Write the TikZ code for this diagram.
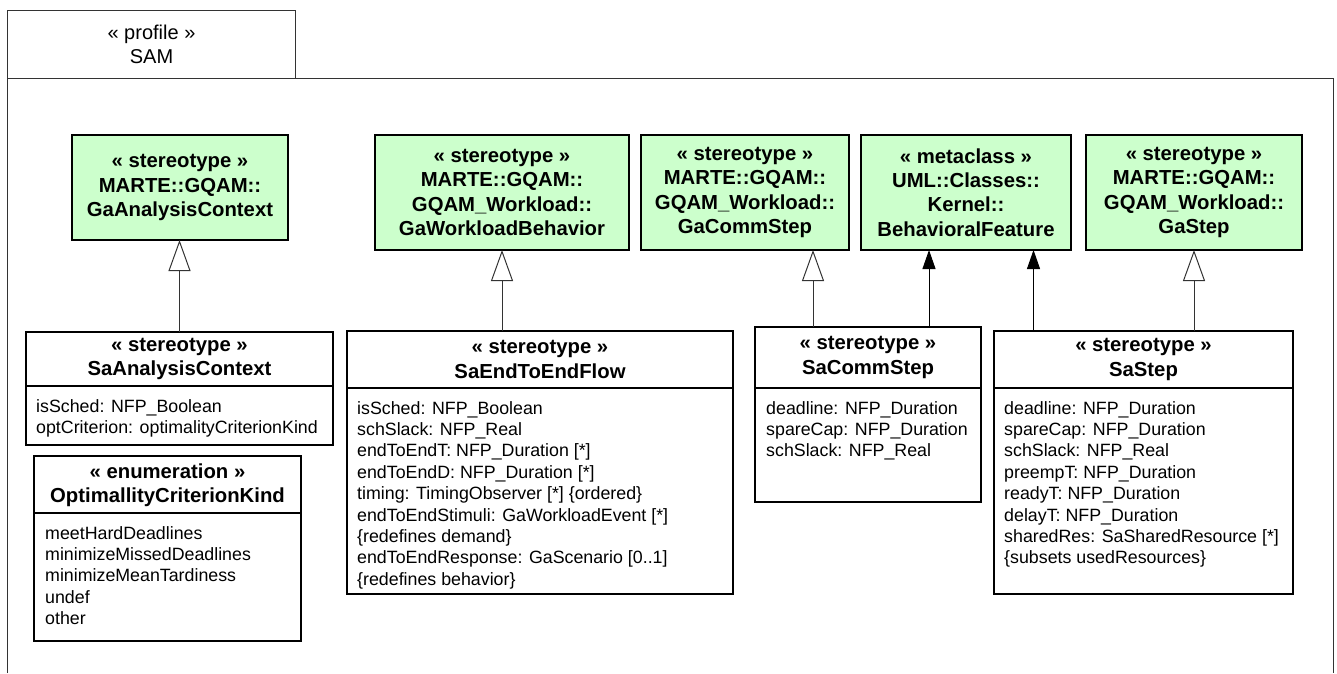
\documentclass[tikz,border=0pt]{standalone}
\usepackage{fontspec}
\setmainfont{Liberation Sans}
\usepackage{tikz}
\usetikzlibrary{arrows.meta, positioning}
\definecolor{stereogreen}{HTML}{CCFFCC}
\definecolor{linegray}{HTML}{333333}
\newcommand{\attrfont}{\fontsize{17.8pt}{21.4pt}\selectfont}
\newcommand{\headfont}{\fontsize{20.3pt}{24.3pt}\selectfont\bfseries}
\newcommand{\tabfont}{\fontsize{20pt}{24pt}\selectfont}

\begin{document}
\begin{tikzpicture}[x=1pt, y=-1pt,
    stereo/.style={rectangle, draw=black, fill=stereogreen, line width=1.4pt, anchor=north west, outer sep=0pt, inner sep=0pt, align=center, font=\headfont},
    umlbox/.style={rectangle, draw=black, fill=white, line width=1.4pt, anchor=north west, outer sep=0pt, inner sep=0pt},
    title/.style={align=center, font=\headfont, inner sep=0pt},
    attrs/.style={align=left, font=\attrfont, anchor=north west, inner sep=0pt},
    split/.style={line width=1.1pt, draw=black},
    frm/.style={line width=1pt, draw=linegray},
    gen/.style={-{Triangle[open, length=31pt, width=22pt]}, line width=1pt, draw=linegray},
    ext/.style={-{Triangle[length=19pt, width=13pt]}, line width=1pt, draw=black}
]
    \useasboundingbox (0,0) rectangle (1337,673);

    % --- Package frame ---
    \node[frm, rectangle, minimum width=288pt, minimum height=68pt, anchor=north west, inner sep=0pt, align=center, font=\tabfont] (tab) at (7,10) {« profile »\\SAM};
    \draw[frm] (7,673) -- (7,78) -- (1333,78) -- (1333,673);

    % --- Imported stereotypes / metaclass ---
    \node[stereo, minimum width=216pt, minimum height=105pt] (gactx) at (72,135) {« stereotype »\\MARTE::GQAM::\\GaAnalysisContext};
    \node[stereo, minimum width=254pt, minimum height=115pt] (gawb) at (375,135) {« stereotype »\\MARTE::GQAM::\\GQAM\_Workload::\\GaWorkloadBehavior};
    \node[stereo, minimum width=208pt, minimum height=115pt] (gacomm) at (641,135) {« stereotype »\\MARTE::GQAM::\\GQAM\_Workload::\\GaCommStep};
    \node[stereo, minimum width=210pt, minimum height=115pt] (behfeat) at (861,135) {« metaclass »\\UML::Classes::\\Kernel::\\BehavioralFeature};
    \node[stereo, minimum width=216pt, minimum height=115pt] (gastep) at (1086,135) {« stereotype »\\MARTE::GQAM::\\GQAM\_Workload::\\GaStep};

    % --- SaAnalysisContext ---
    \node[umlbox, minimum width=307pt, minimum height=113pt] (sactx) at (26,332) {};
    \node[title] (sactx-t) at (179.5,359) {« stereotype »\\SaAnalysisContext};
    \draw[split] ([yshift=-54pt]sactx.north west) -- ([yshift=-54pt]sactx.north east);
    \node[attrs] (sactx-a) at (36,399) {isSched: NFP\_Boolean\\optCriterion: optimalityCriterionKind};

    % --- OptimallityCriterionKind ---
    \node[umlbox, minimum width=267pt, minimum height=185pt] (optkind) at (34,456) {};
    \node[title] (optkind-t) at (167.5,485) {« enumeration »\\OptimallityCriterionKind};
    \draw[split] ([yshift=-57pt]optkind.north west) -- ([yshift=-57pt]optkind.north east);
    \node[attrs] (optkind-a) at (45,526) {meetHardDeadlines\\minimizeMissedDeadlines\\minimizeMeanTardiness\\undef\\other};

    % --- SaEndToEndFlow ---
    \node[umlbox, minimum width=386pt, minimum height=263pt] (sae2e) at (347,331) {};
    \node[title] (sae2e-t) at (540,359.5) {« stereotype »\\SaEndToEndFlow};
    \draw[split] ([yshift=-57pt]sae2e.north west) -- ([yshift=-57pt]sae2e.north east);
    \node[attrs] (sae2e-a) at (357,401) {isSched: NFP\_Boolean\\schSlack: NFP\_Real\\endToEndT: NFP\_Duration [*]\\endToEndD: NFP\_Duration [*]\\timing: TimingObserver [*] \{ordered\}\\endToEndStimuli: GaWorkloadEvent [*]\\\{redefines demand\}\\endToEndResponse: GaScenario [0..1]\\\{redefines behavior\}};

    % --- SaCommStep ---
    \node[umlbox, minimum width=226pt, minimum height=175pt] (sacomm) at (755,327) {};
    \node[title] (sacomm-t) at (868,357.5) {« stereotype »\\SaCommStep};
    \draw[split] ([yshift=-61pt]sacomm.north west) -- ([yshift=-61pt]sacomm.north east);
    \node[attrs] (sacomm-a) at (766,401) {deadline: NFP\_Duration\\spareCap: NFP\_Duration\\schSlack: NFP\_Real};

    % --- SaStep ---
    \node[umlbox, minimum width=299pt, minimum height=263pt] (sastep) at (994,331) {};
    \node[title] (sastep-t) at (1143.5,359.5) {« stereotype »\\SaStep};
    \draw[split] ([yshift=-57pt]sastep.north west) -- ([yshift=-57pt]sastep.north east);
    \node[attrs] (sastep-a) at (1004,401) {deadline: NFP\_Duration\\spareCap: NFP\_Duration\\schSlack: NFP\_Real\\preempT: NFP\_Duration\\readyT: NFP\_Duration\\delayT: NFP\_Duration\\sharedRes: SaSharedResource [*]\\\{subsets usedResources\}};

    % Generalizations
    \draw[gen] (sactx.north) -- (sactx.north |- gactx.south);
    \draw[gen] (gawb.south |- sae2e.north) -- (gawb.south);
    \coordinate (c-comm) at ([xshift=-55pt]sacomm.north);
    \draw[gen] (c-comm) -- (c-comm |- gacomm.south);
    \draw[gen] (gastep.south |- sastep.north) -- (gastep.south);

    % Extensions
    \coordinate (c-commbf) at ([xshift=61pt]sacomm.north);
    \draw[ext] (c-commbf) -- (c-commbf |- behfeat.south);
    \coordinate (c-stepbf) at ([xshift=-110pt]sastep.north);
    \draw[ext] (c-stepbf) -- (c-stepbf |- behfeat.south);
\end{tikzpicture}
\end{document}
